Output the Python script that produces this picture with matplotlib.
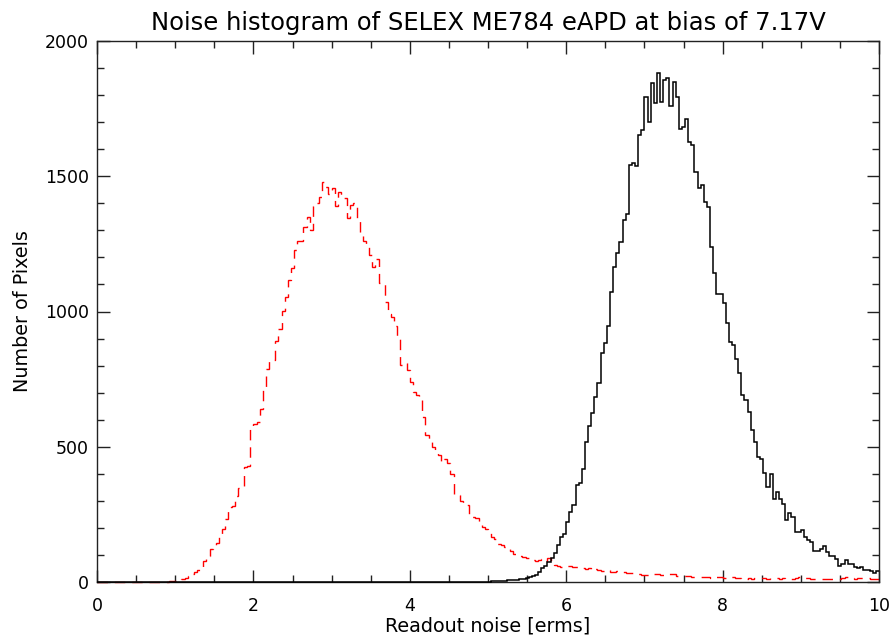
import numpy as np
import matplotlib
matplotlib.use('Agg')
import matplotlib.pyplot as plt
from matplotlib.ticker import MultipleLocator

# bin width of both histograms [erms]
bin_width = 0.04

# counts per bin, one row per unit of readout noise (25 bins each)
black_counts = (
    [0] * 125 +
    [1, 2, 2, 3, 4, 5, 6, 7, 8, 9, 10, 12, 14, 17, 22,
     27, 38, 52, 60, 75, 88, 106, 137, 165, 177] +
    [223, 260, 285, 359, 365, 418, 519, 577, 626, 685, 735, 848, 882, 946, 1073,
     1166, 1215, 1258, 1338, 1360, 1542, 1548, 1538, 1653, 1671] +
    [1794, 1702, 1844, 1770, 1882, 1775, 1856, 1862, 1759, 1850, 1794, 1676, 1683, 1713, 1625,
     1615, 1516, 1455, 1467, 1405, 1385, 1237, 1141, 1064, 1064] +
    [1032, 958, 888, 876, 823, 773, 691, 672, 629, 561, 518, 462, 453, 402, 350,
     400, 308, 333, 308, 290, 228, 256, 240, 185, 185] +
    [191, 167, 154, 148, 113, 113, 123, 132, 111, 95, 95, 86, 59, 67, 80,
     65, 65, 57, 51, 55, 45, 45, 42, 32, 40]
)

red_counts = (
    [0] * 22 + [1, 2, 3] +
    [5, 8, 11, 16, 22, 30, 38, 46, 56, 76, 95, 122, 125, 145, 177,
     196, 233, 278, 280, 318, 348, 352, 425, 430, 575] +
    [585, 592, 640, 720, 787, 818, 822, 892, 935, 1003, 1054, 1117, 1160, 1227, 1262,
     1262, 1313, 1350, 1300, 1390, 1400, 1425, 1480, 1460, 1435] +
    [1455, 1390, 1440, 1420, 1420, 1345, 1395, 1400, 1346, 1283, 1260, 1246, 1209, 1165, 1195,
     1105, 1100, 1035, 990, 980, 945, 905, 802, 810, 784] +
    [740, 702, 690, 684, 610, 543, 530, 500, 488, 470, 445, 455, 440, 400, 325,
     322, 300, 290, 285, 248, 240, 235, 215, 204, 195] +
    [180, 166, 160, 140, 135, 128, 122, 115, 105, 100, 96, 92, 88, 84, 80,
     78, 82, 85, 78, 90, 70, 62, 58, 55, 60] +
    [60, 58, 55, 57, 52, 50, 48, 50, 46, 48, 44, 42, 41, 43, 38,
     36, 40, 41, 38, 35, 33, 34, 30, 28, 26] +
    [27, 25, 28, 30, 29, 26, 27, 30, 28, 30, 24, 22, 23, 22, 21,
     20, 19, 18, 20, 18, 17, 16, 18, 18, 17] +
    [16, 15, 17, 17, 14, 13, 12, 11, 13, 12, 14, 13, 15, 15, 12,
     13, 15, 15, 12, 13, 11, 11, 12, 14, 18] +
    [20, 14, 13, 12, 12, 11, 12, 11, 10, 11, 11, 10, 11, 14, 18,
     16, 14, 12, 13, 15, 15, 13, 11, 11, 12]
)

title = 'Noise histogram of SELEX ME784 eAPD at bias of 7.17V'
xlabel = 'Readout noise [erms]'
ylabel = 'Number of Pixels'

plt.rcParams['font.family'] = ['DejaVu Sans']

fig = plt.figure(figsize=(8.93, 6.40), dpi=100)
ax = fig.add_axes([97 / 893, 1 - 582 / 640, (879 - 97) / 893, (582 - 41) / 640])

edges_b = np.arange(len(black_counts) + 1) * bin_width
edges_r = np.arange(len(red_counts) + 1) * bin_width

ax.stairs(red_counts, edges_r, baseline=None, color='#ff0000', lw=1.0,
          linestyle=(0, (7.5, 5)), clip_on=False, zorder=2)
ax.stairs(black_counts, edges_b, baseline=None, color='black', lw=1.1,
          clip_on=False, zorder=3)

ax.set_xlim(0, 10)
ax.set_ylim(0, 2000)
ax.xaxis.set_major_locator(MultipleLocator(2))
ax.xaxis.set_minor_locator(MultipleLocator(0.5))
ax.yaxis.set_major_locator(MultipleLocator(500))
ax.yaxis.set_minor_locator(MultipleLocator(100))

ax.tick_params(which='both', direction='in', top=True, right=True,
               color='#222222', labelcolor='black', width=1.0, labelsize=12.5)
ax.tick_params(which='major', length=9)
ax.tick_params(which='minor', length=5)
ax.tick_params(axis='x', pad=11)
ax.tick_params(axis='y', pad=6)
for s in ax.spines.values():
    s.set_color('#222222')
    s.set_linewidth(1.0)

ax.set_title(title, fontsize=17.5, pad=8, color='black')
ax.set_xlabel(xlabel, fontsize=13.8, labelpad=1, color='black')
ax.set_ylabel(ylabel, fontsize=13.8, labelpad=9, color='black')

fig.savefig('out.png', dpi=100)
